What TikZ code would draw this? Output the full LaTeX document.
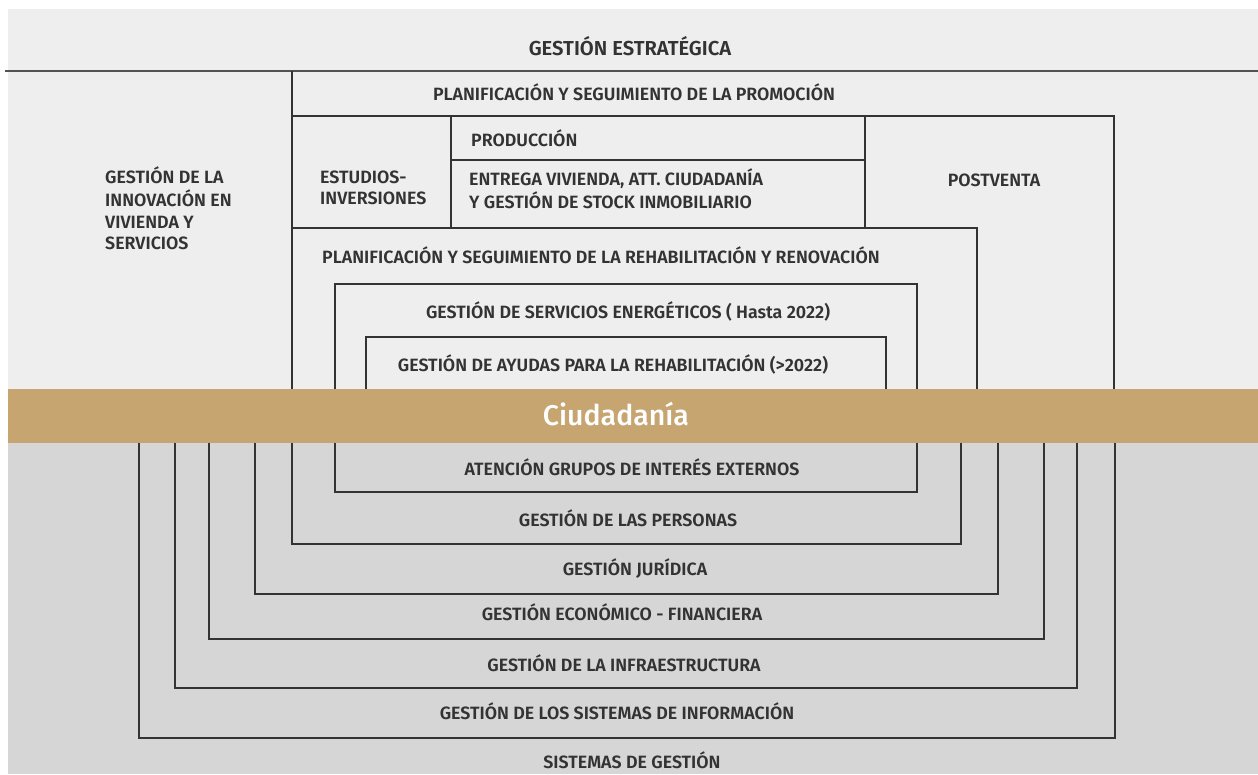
\documentclass[tikz,border=0pt]{standalone}
\usepackage{fontspec}
\setmainfont{Fira Sans}[BoldFont={Fira Sans SemiBold}]
\newfontfamily\medfont{Fira Sans Medium}
\definecolor{topgray}{HTML}{EEEEEE}
\definecolor{lowgray}{HTML}{D6D6D6}
\definecolor{sand}{HTML}{C6A571}
\definecolor{ink}{HTML}{333333}
\newcommand{\stackl}[1]{\begin{tabular}[t]{@{}l@{}}#1\end{tabular}}

\begin{document}
\begin{tikzpicture}[x=1pt,y=-1pt,
  frame/.style={draw=ink,line width=1.3pt},
  lbl/.style={font=\fontsize{17.8}{21.3}\selectfont\bfseries,text=ink,inner sep=0pt,anchor=base}]
\useasboundingbox (0,0) rectangle (1258,774);
% backgrounds
\fill[topgray] (8,9) rectangle (1258,389);
\fill[lowgray] (8,443) rectangle (1258,774);
% upper frames
\draw[draw=ink!85,line width=1.6pt] (5,71)--(1258,71);
\draw[frame] (292,71)--(292,389);
\draw[frame] (292,116)--(1114,116)--(1114,389);
\draw[frame] (451,116)--(451,228);
\draw[frame] (451,160)--(865,160);
\draw[frame] (865,116)--(865,228);
\draw[frame] (292,228)--(977,228)--(977,389);
\draw[frame] (335,389)|-(917,284)--(917,389);
\draw[frame] (366,389)|-(886,337)--(886,389);
% lower frames
\foreach \l/\r/\b in {335/917/492,292/961/544,255/998/594,209/1044/639,175/1077/688,139/1115/738}
  \draw[frame] (\l,443)|-(\r,\b)--(\r,443);
% band
\fill[sand] (8,389) rectangle (1258,443);

\node[lbl,font=\fontsize{20.2}{22}\selectfont\bfseries] (estrat) at (630,55) {GESTIÓN ESTRATÉGICA};
\node[lbl] (promo) at (634,100.5) {PLANIFICACIÓN Y SEGUIMIENTO DE LA PROMOCIÓN};
\node[lbl,anchor=base west] (innov) at (105,183.5) {\stackl{GESTIÓN DE LA\\INNOVACIÓN EN\\VIVIENDA Y\\SERVICIOS}};
\node[lbl,anchor=base west] (estud) at (320,183.5) {\stackl{ESTUDIOS-\\INVERSIONES}};
\node[lbl,anchor=base west] (prod) at (471,146) {PRODUCCIÓN};
\node[lbl,anchor=base west] (entrega) at (469,185) {\stackl{ENTREGA VIVIENDA, ATT. CIUDADANÍA\\Y GESTIÓN DE STOCK INMOBILIARIO}};
\node[lbl] (postv) at (994,186.5) {POSTVENTA};
\node[lbl] (rehab) at (601,263) {PLANIFICACIÓN Y SEGUIMIENTO DE LA REHABILITACIÓN Y RENOVACIÓN};
\node[lbl] (energ) at (628,318) {GESTIÓN DE SERVICIOS ENERGÉTICOS ( Hasta 2022)};
\node[lbl] (ayudas) at (613,371) {GESTIÓN DE AYUDAS PARA LA REHABILITACIÓN (>2022)};
\node[font=\fontsize{28.5}{30}\medfont,text=white,inner sep=0pt,anchor=base] (ciud) at (616,425) {Ciudadanía};
\node[lbl] (atenc) at (632,475) {ATENCIÓN GRUPOS DE INTERÉS EXTERNOS};
\node[lbl] (person) at (628,526) {GESTIÓN DE LAS PERSONAS};
\node[lbl] (jurid) at (635,575) {GESTIÓN JURÍDICA};
\node[lbl] (econ) at (622,620) {GESTIÓN ECONÓMICO - FINANCIERA};
\node[lbl] (infra) at (624,671) {GESTIÓN DE LA INFRAESTRUCTURA};
\node[lbl] (sisinf) at (617,719) {GESTIÓN DE LOS SISTEMAS DE INFORMACIÓN};
\node[lbl] (sisgest) at (632,768) {SISTEMAS DE GESTIÓN};
\end{tikzpicture}
\end{document}
